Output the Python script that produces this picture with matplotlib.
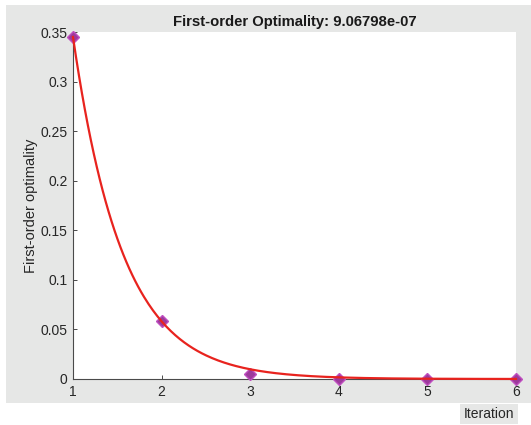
import numpy as np
import matplotlib.pyplot as plt
from matplotlib.patches import Rectangle

plt.rcParams['font.family'] = ['Liberation Sans', 'DejaVu Sans']

# optimality measure per iteration
iterations = [1, 2, 3, 4, 5, 6]
optimality = [0.345, 0.058, 0.0047, 0.0003, 0.00001, 9.06798e-07]

# exponential fit drawn through the points
fitAmplitude = 0.345
fitRate = 1.78

yticks = [0, 0.05, 0.1, 0.15, 0.2, 0.25, 0.3, 0.35]
yticklabels = ["0", "0.05", "0.1", "0.15", "0.2", "0.25", "0.3", "0.35"]

W, H = 531, 425
fig = plt.figure(figsize=(W / 100, H / 100), dpi=100)
fig.patch.set_facecolor("white")

# grey panel behind the axes
fig.patches.append(Rectangle((6 / W, (H - 403) / H), 1 - 6 / W, (403 - 5) / H,
                             transform=fig.transFigure, facecolor="#e6e7e6",
                             edgecolor="none", zorder=-5))

ax = fig.add_axes([73 / W, 1 - 379 / H, (516 - 73) / W, (379 - 32) / H])
ax.set_zorder(2)
ax.set_facecolor("white")

xs = np.linspace(iterations[0], iterations[-1], 300)
fit = fitAmplitude * np.exp(-fitRate * (xs - iterations[0]))

ax.plot(iterations, optimality, linestyle="none", marker="D", markersize=6.5,
        markerfacecolor="#9c3a9c", markeredgecolor="#c04fc0", markeredgewidth=1.0,
        zorder=3, clip_on=False)
ax.plot(xs, fit, color="#e8231e", linewidth=1.6, zorder=4, clip_on=False)

ax.set_xlim(1, 6)
ax.set_ylim(0, 0.35)
ax.set_xticks(iterations)
ax.set_xticklabels([str(i) for i in iterations])
ax.set_yticks(yticks)
ax.set_yticklabels(yticklabels)

for side in ["top", "right"]:
    ax.spines[side].set_visible(False)
for side in ["left", "bottom"]:
    ax.spines[side].set_color("#4a4a4a")
    ax.spines[side].set_linewidth(0.8)

ax.tick_params(direction="in", length=3, width=0.7, color="#4a4a4a",
               labelsize=10, labelcolor="#262626", pad=4)

ax.set_ylabel("First-order optimality", fontsize=10.5, color="#262626", labelpad=2)
ax.set_title("First-order Optimality: 9.06798e-07", fontsize=10.7, fontweight="bold",
             color="#1a1a1a", pad=4)

fig.text(489 / W, 1 - 414 / H, "Iteration", fontsize=10, color="#262626",
         ha="center", va="center",
         bbox=dict(boxstyle="square,pad=0.25", facecolor="#e6e7e6", edgecolor="none"))

fig.savefig("out.png", dpi=100, facecolor=fig.get_facecolor())
